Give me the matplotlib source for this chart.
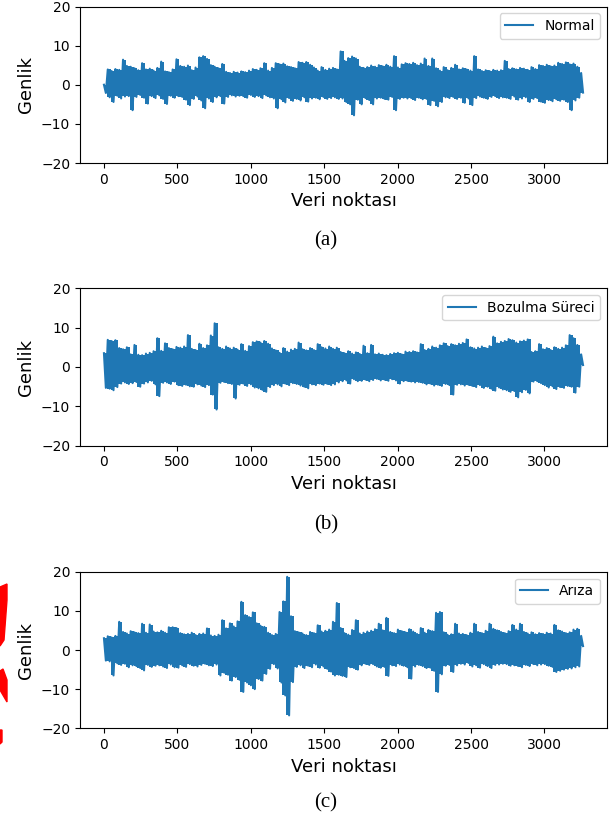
import numpy as np
import matplotlib
matplotlib.use("Agg")
import matplotlib.pyplot as plt
from matplotlib.patches import Polygon

# keep every zig-zag vertex, otherwise the dense band gets thinned out
plt.rcParams["path.simplify"] = False

# Signal values, one every 13 samples, alternating
# upper / lower excursion (pairs = local max / min of the dense signal).
STEP = 13
BLUE = "#1f77b4"

normal_vals = [
    0.0, -2.1, 3.9, -3.2, 3.5, -4.4, 4.0, -2.8, 3.8, -3.5,
    6.4, -3.0, 4.8, -2.9, 4.6, -6.5, 4.2, -3.1, 3.7, -2.6,
    5.5, -3.3, 3.9, -4.8, 4.1, -2.9, 3.6, -3.4, 4.3, -2.7,
    5.9, -3.6, 3.4, -4.9, 3.2, -2.8, 3.9, -3.3, 6.5, -2.9,
    4.8, -3.1, 4.6, -3.8, 4.9, -5.2, 3.7, -3.6, 4.4, -3.0,
    7.0, -4.0, 7.3, -6.0, 6.6, -3.5, 5.0, -4.4, 4.6, -3.2,
    4.2, -2.9, 5.3, -4.8, 3.3, -3.1, 3.0, -2.7, 3.3, -3.0,
    3.1, -2.8, 3.4, -2.9, 3.2, -3.3, 3.6, -2.6, 4.0, -3.1,
    3.8, -2.9, 4.2, -3.4, 5.5, -2.7, 3.6, -3.2, 4.3, -3.5,
    5.5, -6.0, 5.2, -3.7, 5.4, -4.5, 4.7, -3.4, 4.5, -4.1,
    4.2, -3.6, 5.8, -4.0, 5.6, -3.2, 5.8, -4.3, 5.1, -3.5,
    4.4, -3.3, 3.6, -3.7, 4.5, -3.1, 3.8, -3.6, 4.1, -3.4,
    4.3, -3.2, 3.9, -3.6, 8.5, -3.5, 6.1, -4.4, 6.8, -5.0,
    7.2, -7.8, 6.7, -3.8, 4.6, -5.0, 4.3, -3.4, 4.5, -3.9,
    4.9, -5.0, 4.6, -3.5, 5.0, -3.3, 4.7, -3.6, 5.1, -3.8,
    4.6, -3.1, 7.3, -6.5, 4.4, -3.6, 5.2, -3.3, 5.5, -3.5,
    5.3, -3.4, 5.6, -3.9, 5.0, -3.3, 5.4, -3.7, 6.7, -3.6,
    4.8, -5.2, 6.7, -4.1, 4.2, -5.5, 3.6, -4.4, 4.5, -3.2,
    3.7, -3.4, 4.3, -3.1, 5.1, -3.6, 3.9, -3.3, 4.2, -4.6,
    3.9, -3.5, 3.6, -5.2, 7.3, -3.4, 3.9, -3.0, 3.5, -3.3,
    3.7, -3.6, 3.5, -3.1, 3.8, -2.9, 3.6, -3.4, 3.7, -3.2,
    6.1, -3.3, 4.0, -3.6, 4.2, -3.0, 3.9, -3.8, 4.3, -3.5,
    4.1, -3.2, 3.8, -4.4, 4.5, -3.6, 4.0, -3.4, 5.0, -4.3,
    4.8, -4.6, 5.1, -3.9, 4.7, -4.2, 4.9, -3.7, 5.6, -4.1,
    5.3, -3.8, 5.7, -4.4, 5.2, -6.5, 5.4, -4.0, 4.6, -3.3,
    3.0, -2.0,
]

bozulma_vals = [
    3.5, -5.3, 6.9, -5.5, 6.6, -5.9, 6.8, -5.1, 4.8, -4.2,
    4.5, -3.9, 5.0, -4.3, 3.2, -4.1, 5.6, -3.8, 3.1, -5.0,
    3.0, -4.2, 3.4, -3.9, 3.6, -3.5, 4.0, -4.4, 7.3, -7.4,
    4.1, -4.0, 6.0, -3.9, 4.8, -4.3, 4.5, -3.7, 5.1, -4.6,
    4.9, -4.8, 5.2, -4.5, 8.1, -4.9, 4.6, -5.0, 4.3, -4.4,
    5.9, -4.7, 4.8, -5.1, 5.5, -4.6, 8.0, -7.0, 11.1, -10.8,
    5.0, -4.0, 4.6, -3.8, 5.2, -4.1, 4.7, -4.3, 4.9, -8.0,
    4.4, -4.5, 5.8, -4.2, 4.1, -4.8, 5.3, -4.4, 6.3, -5.2,
    6.5, -5.4, 6.2, -5.8, 6.6, -6.3, 5.9, -5.1, 4.7, -4.6,
    4.2, -4.4, 3.6, -4.9, 4.8, -4.2, 3.9, -4.6, 4.4, -4.1,
    4.6, -4.3, 6.2, -4.7, 4.5, -5.0, 4.2, -5.4, 4.8, -4.4,
    4.3, -4.6, 5.8, -4.2, 5.0, -4.5, 4.7, -4.3, 5.2, -4.6,
    4.6, -4.4, 4.9, -3.9, 3.8, -3.6, 3.5, -3.4, 4.0, -4.2,
    3.4, -3.1, 3.7, -3.6, 3.3, -3.5, 5.4, -3.2, 3.5, -3.6,
    5.6, -3.3, 3.2, -3.0, 3.4, -3.4, 3.1, -3.2, 3.0, -3.5,
    3.3, -3.1, 3.5, -3.4, 3.6, -4.2, 3.2, -3.6, 3.9, -3.5,
    3.8, -3.7, 4.0, -3.9, 3.7, -3.8, 5.8, -4.0, 4.3, -4.4,
    4.6, -4.2, 5.2, -4.7, 4.9, -4.5, 5.5, -4.8, 6.0, -4.3,
    5.3, -4.6, 5.8, -7.0, 5.5, -4.5, 5.9, -4.4, 6.1, -4.7,
    7.0, -4.5, 5.0, -4.8, 4.7, -5.1, 4.9, -4.6, 5.2, -5.3,
    4.8, -5.0, 5.3, -5.5, 7.7, -6.0, 6.0, -5.2, 6.4, -5.7,
    6.6, -5.9, 7.1, -6.3, 6.8, -6.1, 6.2, -7.7, 6.5, -6.4,
    6.7, -5.8, 7.0, -6.7, 3.8, -3.7, 4.0, -3.6, 5.8, -4.1,
    4.5, -4.6, 4.8, -5.2, 4.3, -4.9, 5.0, -5.6, 4.6, -5.1,
    4.9, -5.3, 5.5, -4.8, 8.1, -5.0, 7.3, -6.5, 5.6, -5.0,
    3.2, 0.5,
]

ariza_vals = [
    3.0, -2.7, 3.5, -2.9, 3.2, -6.5, 3.6, -3.4, 7.2, -3.8,
    4.6, -3.5, 4.2, -4.4, 4.8, -3.9, 4.5, -4.1, 4.3, -4.6,
    6.7, -5.2, 4.4, -3.8, 6.5, -4.3, 4.7, -4.0, 4.5, -3.9,
    4.9, -4.2, 4.4, -4.6, 5.8, -3.7, 5.8, -4.4, 5.6, -4.5,
    4.3, -3.9, 4.0, -4.3, 4.1, -3.6, 4.4, -4.0, 3.8, -4.2,
    4.1, -3.8, 4.2, -3.5, 5.5, -3.9, 3.7, -4.1, 3.6, -3.7,
    3.9, -6.5, 7.6, -5.8, 5.5, -6.3, 6.8, -7.8, 6.0, -6.9,
    7.3, -7.6, 12.3, -10.7, 8.9, -8.3, 8.4, -9.0, 9.6, -10.0,
    6.8, -7.4, 6.2, -7.8, 5.9, -6.1, 4.4, -4.8, 3.8, -3.6,
    4.1, -4.7, 9.7, -8.3, 12.4, -11.6, 18.7, -16.7, 8.6, -8.2,
    4.8, -4.3, 4.5, -3.9, 4.2, -4.6, 3.8, -4.0, 4.6, -4.4,
    4.3, -3.7, 6.3, -4.5, 4.7, -4.2, 4.9, -4.8, 5.2, -5.5,
    7.2, -6.5, 12.0, -6.3, 5.6, -6.6, 4.3, -6.9, 3.9, -4.4,
    5.1, -4.6, 7.6, -5.0, 4.2, -3.9, 4.4, -3.5, 4.7, -3.8,
    4.9, -3.6, 5.3, -4.2, 6.7, -4.5, 5.0, -4.3, 8.2, -6.6,
    4.6, -3.9, 4.3, -4.1, 5.2, -3.7, 4.8, -4.0, 4.5, -4.4,
    5.3, -7.3, 4.7, -4.2, 4.1, -3.8, 5.6, -4.1, 4.4, -4.6,
    5.1, -4.5, 4.8, -5.3, 9.5, -10.7, 9.7, -6.2, 4.5, -4.0,
    3.9, -3.8, 4.0, -5.6, 6.7, -3.9, 4.2, -3.5, 4.1, -3.7,
    3.8, -3.3, 4.4, -4.2, 6.7, -3.9, 4.6, -4.5, 4.3, -3.6,
    4.9, -4.1, 6.7, -4.6, 5.4, -3.8, 5.0, -3.7, 4.6, -3.5,
    4.3, -3.6, 4.8, -4.0, 6.4, -3.9, 5.2, -4.1, 6.7, -4.4,
    4.6, -3.8, 4.2, -4.1, 4.5, -3.6, 4.0, -3.9, 4.3, -3.7,
    4.1, -3.6, 4.4, -4.0, 4.2, -4.3, 6.4, -5.6, 5.0, -5.3,
    4.7, -5.0, 4.3, -4.8, 4.5, -4.7, 5.2, -4.4, 5.4, -4.2,
    3.6, 1.0,
]

labels = ["Normal", "Bozulma Süreci", "Arıza"]
captions = ["(a)", "(b)", "(c)"]
y_ticks = [-20, -10, 0, 10, 20]

W, H = 611, 821
fig = plt.figure(figsize=(W / 100, H / 100), dpi=100)

# axes boxes in pixels: (top, bottom)
boxes = [(6.5, 163.0), (288.3, 445.7), (571.7, 728.3)]
cap_y = [241, 525, 803]
left_px, right_px = 80, 607

for vals, lab, cap, (top, bot), cy in zip(
        [normal_vals, bozulma_vals, ariza_vals], labels, captions, boxes, cap_y):
    ax = fig.add_axes([left_px / W, 1 - bot / H,
                       (right_px - left_px) / W, (bot - top) / H])
    v = np.asarray(vals)
    x = np.arange(len(v)) * STEP
    # dense band: each max/min pair filled, as the 3000+ raw samples do
    xp = (x[0::2] + x[1::2]) / 2
    ax.fill_between(xp, np.minimum(v[0::2], v[1::2]),
                    np.maximum(v[0::2], v[1::2]),
                    step="mid", color=BLUE, linewidth=0)
    ax.plot(x, v, color=BLUE, linewidth=1.5, label=lab)
    ax.set_ylim(-20, 20)
    ax.set_yticks(y_ticks)
    ax.tick_params(labelsize=10)
    ax.set_xlabel("Veri noktası", fontsize=13)
    ax.set_ylabel("Genlik", fontsize=13)
    ax.legend(loc="upper right", fontsize=10)
    fig.text(326 / W, 1 - cy / H, cap, ha="center", va="center",
             fontsize=15, family=["Liberation Serif", "DejaVu Serif"])

# red mark fragments at the left edge next to panel (c)
red_shapes = [
    [(0, 587), (7, 584), (7, 600), (4, 640), (0, 646)],
    [(0, 671), (3, 669), (7, 680), (7, 702), (0, 690)],
    [(0, 730), (2, 730), (2, 742), (0, 744)],
]
for pts in red_shapes:
    fig.patches.append(Polygon([(px / W, 1 - py / H) for px, py in pts],
                               closed=True, color="red",
                               transform=fig.transFigure, figure=fig))

fig.savefig("out.png", dpi=100)
